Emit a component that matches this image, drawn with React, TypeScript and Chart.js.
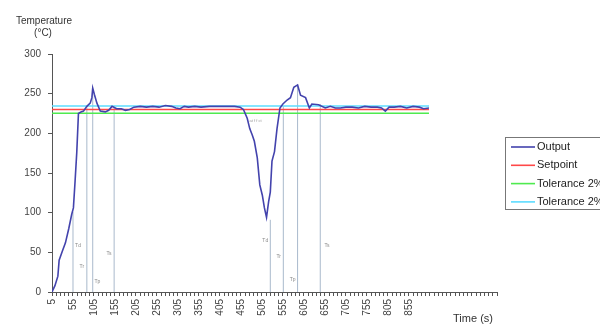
import React, { useEffect, useRef } from "react";
import { Chart, registerables } from "chart.js";

Chart.register(...registerables);

const times = [5, 12, 19, 22, 30, 37, 45, 52, 56, 60, 64, 68, 74, 80, 88, 96, 100, 102, 106, 112, 120, 132, 140, 148, 159, 170, 180, 190, 200, 215, 230, 245, 260, 275, 290, 300, 310, 320, 330, 345, 360, 380, 400, 420, 440, 453, 461, 470, 476, 482, 487, 494, 500, 506, 511, 516, 521, 525, 529, 535, 541, 548, 555, 565, 573, 581, 590, 597, 609, 618, 624, 640, 656, 668, 680, 692, 705, 720, 735, 750, 765, 780, 790, 799, 808, 820, 835, 850, 865, 880, 890, 903];
const output = [0, 8, 20, 40, 52, 62, 80, 98, 106, 140, 176, 225, 227, 228, 234, 238, 245, 257, 249, 238, 228, 227, 229, 234, 231, 231, 229, 230, 233, 234, 233, 234, 233, 235, 234, 232, 231, 234, 233, 234, 233, 234, 234, 234, 234, 233, 230, 219, 206, 198, 190, 169, 135, 122, 106, 94, 114, 126, 165, 177, 206, 232, 237, 242, 245, 258, 261, 248, 245, 232, 237, 236, 232, 234, 232, 232, 233, 233, 232, 234, 233, 233, 232, 228, 233, 233, 234, 232, 234, 233, 231, 232];

const setpoint = 230;
const toleranceLow = 225.4;
const toleranceHigh = 234.6;

const markerTimes = [55, 88, 102, 153, 525, 556, 590, 644];
const markerTops = [101, 233, 256, 234, 91, 234, 261, 237];
const markerNames = ["Td", "Tr", "Tp", "Ts", "Td", "Tr", "Tp", "Ts"];
const markerLabelTimes = [67, 76, 113, 141, 513, 545, 578, 660];
const markerLabelValues = [58, 32, 13, 48, 65, 44, 15, 58];

const legendLabels = ["Output", "Setpoint", "Tolerance 2%", "Tolerance 2%"];
const colors = ["#4343ad", "#ff4848", "#4fea4f", "#5cdcff"];

const xMin = 5;
const xMax = 1065;
const xLabelMax = 855;

export default function App() {
  const ref = useRef<HTMLCanvasElement | null>(null);

  useEffect(() => {
    document.body.style.margin = "0";
    const canvas = ref.current;
    if (!canvas) return;

    const tEnd = times[times.length - 1];
    const datasets: any[] = [
      {
        label: legendLabels[0],
        data: times.map((t, i) => ({ x: t, y: output[i] })),
        borderColor: colors[0],
        borderWidth: 1.6,
        pointRadius: 0,
        tension: 0,
      },
      {
        label: legendLabels[1],
        data: [{ x: times[0], y: setpoint }, { x: tEnd, y: setpoint }],
        borderColor: colors[1],
        borderWidth: 1.5,
        pointRadius: 0,
      },
      {
        label: legendLabels[2],
        data: [{ x: times[0], y: toleranceLow }, { x: tEnd, y: toleranceLow }],
        borderColor: colors[2],
        borderWidth: 1.5,
        pointRadius: 0,
      },
      {
        label: legendLabels[3],
        data: [{ x: times[0], y: toleranceHigh }, { x: tEnd, y: toleranceHigh }],
        borderColor: colors[3],
        borderWidth: 1.5,
        pointRadius: 0,
      },
    ];
    markerTimes.forEach((t, i) => {
      datasets.push({
        label: "marker" + i,
        data: [{ x: t, y: 0 }, { x: t, y: markerTops[i] }],
        borderColor: "#a9b9cc",
        borderWidth: 1,
        pointRadius: 0,
      });
    });

    const extras = {
      id: "extras",
      afterDatasetsDraw(chart: any) {
        const ctx = chart.ctx;
        const xs = chart.scales.x;
        const ys = chart.scales.y;
        ctx.save();
        // marker labels
        ctx.fillStyle = "#8a8a8a";
        ctx.font = "5px 'Liberation Sans', Arial, sans-serif";
        ctx.textAlign = "center";
        ctx.textBaseline = "middle";
        markerNames.forEach((n, i) => {
          ctx.fillText(n, xs.getPixelForValue(markerLabelTimes[i]), ys.getPixelForValue(markerLabelValues[i]));
        });
        ctx.font = "4px 'Liberation Sans', Arial, sans-serif";
        ctx.fillStyle = "#999";
        ctx.fillText("at f f ct", xs.getPixelForValue(490), ys.getPixelForValue(216));

        // axis titles
        ctx.fillStyle = "#333";
        ctx.font = "10px 'Liberation Sans', Arial, sans-serif";
        ctx.textAlign = "center";
        ctx.fillText("Temperature", 44, 21);
        ctx.fillText("(\u00B0C)", 43, 33);
        ctx.font = "11px 'Liberation Sans', Arial, sans-serif";
        ctx.fillText("Time (s)", chart.chartArea.right - 24, 319);

        // legend
        ctx.strokeStyle = "#777";
        ctx.lineWidth = 1;
        ctx.strokeRect(505.5, 137.5, 200, 72);
        ctx.font = "11px 'Liberation Sans', Arial, sans-serif";
        ctx.textAlign = "left";
        ctx.textBaseline = "middle";
        legendLabels.forEach((l, i) => {
          const y = 147 + i * 18.3;
          ctx.strokeStyle = colors[i];
          ctx.lineWidth = 1.6;
          ctx.beginPath();
          ctx.moveTo(511, y);
          ctx.lineTo(535, y);
          ctx.stroke();
          ctx.fillStyle = "#222";
          ctx.fillText(l, 537, y);
        });
        ctx.restore();
      },
    };

    const chart = new Chart(canvas, {
      type: "line",
      data: { datasets },
      options: {
        animation: false,
        responsive: false,
        layout: { padding: { left: 0, right: 103, top: 54, bottom: 0 } },
        plugins: { legend: { display: false }, tooltip: { enabled: false } },
        scales: {
          x: {
            type: "linear",
            min: xMin,
            max: xMax,
            afterFit: (s: any) => {
              s.height = 42;
            },
            afterBuildTicks: (s: any) => {
              const ticks = [];
              for (let v = xMin; v <= xMax; v += 10) ticks.push({ value: v });
              s.ticks = ticks;
            },
            grid: { drawOnChartArea: false, drawTicks: true, tickLength: 4, color: "#555" },
            border: { color: "#555", width: 1 },
            ticks: {
              autoSkip: false,
              minRotation: 90,
              maxRotation: 90,
              padding: 3,
              color: "#444",
              font: { family: "'Liberation Sans', Arial, sans-serif", size: 10 },
              callback: (v: any) => {
                const n = Number(v);
                return (n - xMin) % 50 === 0 && n <= xLabelMax ? String(n) : "";
              },
            },
          },
          y: {
            min: 0,
            max: 300,
            afterFit: (s: any) => {
              s.width = 52;
            },
            grid: { drawOnChartArea: false, drawTicks: true, tickLength: 4, color: "#555" },
            border: { color: "#555", width: 1 },
            ticks: {
              stepSize: 50,
              padding: 7,
              color: "#444",
              font: { family: "'Liberation Sans', Arial, sans-serif", size: 10 },
            },
          },
        },
      },
      plugins: [extras],
    });
    return () => chart.destroy();
  }, []);

  return (
    <div style={{ width: 600, height: 334 }}>
      <canvas ref={ref} width={600} height={334} style={{ width: 600, height: 334, display: "block" }} />
    </div>
  );
}
